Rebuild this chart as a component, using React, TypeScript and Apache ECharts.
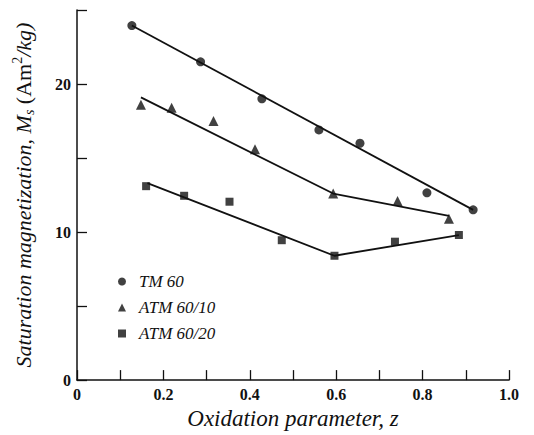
import React, { useEffect, useRef } from "react";
import * as echarts from "echarts";

// TM 60 (circles)
const tm60Points: [number, number][] = [
  [0.127, 23.95], [0.286, 21.5], [0.428, 19.0], [0.56, 16.9],
  [0.655, 16.0], [0.81, 12.65], [0.917, 11.5],
];
const tm60Fit: [number, number][] = [[0.127, 23.95], [0.917, 11.5]];

// ATM 60/10 (triangles)
const atm10Points: [number, number][] = [
  [0.148, 18.6], [0.219, 18.4], [0.316, 17.5], [0.412, 15.6],
  [0.593, 12.6], [0.742, 12.1], [0.861, 10.9],
];
const atm10Fit: [number, number][] = [[0.148, 19.1], [0.593, 12.6], [0.861, 11.1]];

// ATM 60/20 (squares)
const atm20Points: [number, number][] = [
  [0.16, 13.1], [0.248, 12.45], [0.353, 12.05], [0.474, 9.45],
  [0.596, 8.4], [0.736, 9.35], [0.884, 9.8],
];
const atm20Fit: [number, number][] = [[0.163, 13.3], [0.596, 8.4], [0.884, 9.8]];

const seriesNames = ["TM 60", "ATM 60/10", "ATM 60/20"];
const xLabelValues = ["0", "0.2", "0.4", "0.6", "0.8", "1.0"];
const yLabelValues = ["0", "10", "20"];

const INK = "#111";
const SERIF = "Liberation Serif";

export default function App() {
  const ref = useRef<HTMLDivElement>(null);
  useEffect(() => {
    if (!ref.current) return;
    const chart = echarts.init(ref.current, undefined, { renderer: "svg" });
    const lineStyle = { color: INK, width: 1.8 };
    const fitSeries = (name: string, data: [number, number][]) => ({
      name,
      type: "line",
      data,
      symbol: "none",
      lineStyle,
      silent: true,
      z: 1,
    });
    const pointSeries = (name: string, data: [number, number][], symbol: string, size: number) => ({
      name,
      type: "scatter",
      data,
      symbol,
      symbolSize: size,
      itemStyle: { color: INK },
      z: 3,
    });
    chart.setOption({
      animation: false,
      backgroundColor: "#fff",
      grid: { left: 77, right: 25, top: 10, bottom: 51 },
      legend: {
        orient: "vertical",
        left: 113,
        top: 268,
        itemGap: 9,
        itemWidth: 8,
        itemHeight: 8,
        data: seriesNames,
        formatter: (n: string) => "{t|" + n + "}",
        textStyle: {
          rich: {
            t: {
              fontFamily: SERIF,
              fontStyle: "italic",
              fontSize: 17,
              color: INK,
              padding: [0, 0, 0, 8],
            },
          },
        },
      },
      xAxis: {
        type: "value",
        min: 0,
        max: 1,
        interval: 0.1,
        name: "Oxidation parameter, z",
        nameLocation: "middle",
        nameGap: 25,
        nameTextStyle: { fontFamily: SERIF, fontStyle: "italic", fontSize: 23, color: INK },
        axisLine: { lineStyle: { color: INK, width: 1.5 } },
        axisTick: { inside: true, length: 10, lineStyle: { color: INK, width: 1.3 } },
        splitLine: { show: false },
        axisLabel: {
          margin: 6,
          fontFamily: SERIF,
          fontWeight: "bold",
          fontSize: 16,
          color: INK,
          formatter: (v: number) => {
            const k = Math.round(v * 10);
            return k % 2 === 0 ? xLabelValues[k / 2] : "";
          },
        },
      },
      yAxis: {
        type: "value",
        min: 0,
        max: 25,
        interval: 5,
        name: "{a|Saturation magnetization, M}{b|s}{u| (Am}{c|2}{a|/kg)}",
        nameLocation: "middle",
        nameGap: 40,
        nameTextStyle: {
          color: INK,
          rich: {
            a: { fontFamily: SERIF, fontStyle: "italic", fontSize: 22, color: INK, lineHeight: 28 },
            u: { fontFamily: SERIF, fontSize: 22, color: INK, lineHeight: 28 },
            b: { fontFamily: SERIF, fontStyle: "italic", fontSize: 14, color: INK, lineHeight: 28, padding: [12, 0, 0, 0] },
            c: { fontFamily: SERIF, fontSize: 14, color: INK, lineHeight: 28, padding: [0, 0, 12, 0] },
          },
        },
        axisLine: { lineStyle: { color: INK, width: 1.5 } },
        axisTick: { inside: true, length: 10, lineStyle: { color: INK, width: 1.3 } },
        splitLine: { show: false },
        axisLabel: {
          margin: 6,
          fontFamily: SERIF,
          fontWeight: "bold",
          fontSize: 16,
          color: INK,
          formatter: (v: number) => {
            const k = Math.round(v / 5);
            return k % 2 === 0 ? yLabelValues[k / 2] : "";
          },
        },
      },
      series: [
        fitSeries("TM 60 fit", tm60Fit),
        fitSeries("ATM 60/10 fit", atm10Fit),
        fitSeries("ATM 60/20 fit", atm20Fit),
        pointSeries(seriesNames[0], tm60Points, "circle", 9),
        pointSeries(seriesNames[1], atm10Points, "triangle", 10),
        pointSeries(seriesNames[2], atm20Points, "rect", 8),
      ],
    });
    return () => chart.dispose();
  }, []);
  return (
    <div
      ref={ref}
      style={{ position: "fixed", left: 0, top: 0, width: 534, height: 435, background: "#fff" }}
    />
  );
}
